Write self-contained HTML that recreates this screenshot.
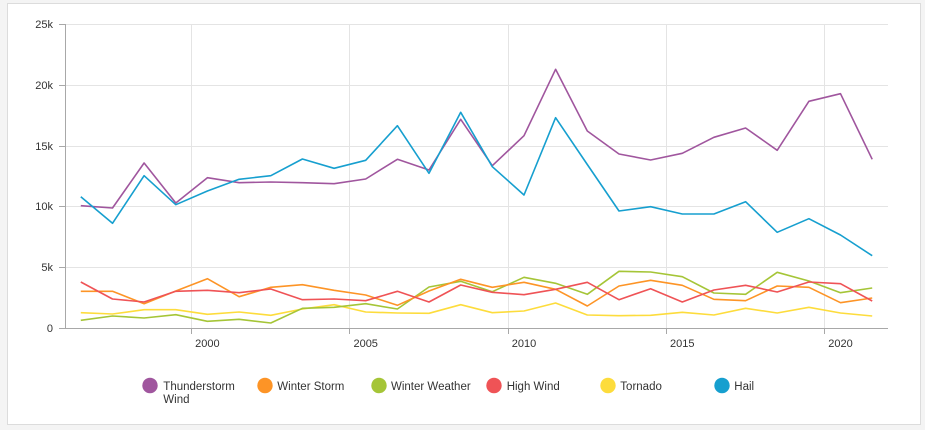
<!DOCTYPE html>
<html>
<head>
<meta charset="utf-8">
<style>
  html,body{margin:0;padding:0;background:#f4f4f4;}
  body{width:925px;height:430px;position:relative;overflow:hidden;font-family:"Liberation Sans",sans-serif;}
  .card{position:absolute;left:7px;top:3px;width:912px;height:420px;background:#fff;border:1px solid #dcdcdc;}
  svg{position:absolute;left:0;top:0;}
  text{font-family:"Liberation Sans",sans-serif;fill:#333;}
</style>
</head>
<body>
<div class="card"></div>
<svg width="925" height="430" viewBox="0 0 925 430" xmlns="http://www.w3.org/2000/svg">
  <!-- horizontal gridlines -->
  <g stroke="#e4e4e4" stroke-width="1" shape-rendering="crispEdges">
    <line x1="65" y1="24.5" x2="888" y2="24.5"/>
    <line x1="65" y1="85.5" x2="888" y2="85.5"/>
    <line x1="65" y1="146.5" x2="888" y2="146.5"/>
    <line x1="65" y1="206.5" x2="888" y2="206.5"/>
    <line x1="65" y1="267.5" x2="888" y2="267.5"/>
    <!-- vertical gridlines -->
    <line x1="191.5" y1="24" x2="191.5" y2="328"/>
    <line x1="349.5" y1="24" x2="349.5" y2="328"/>
    <line x1="508.5" y1="24" x2="508.5" y2="328"/>
    <line x1="666.5" y1="24" x2="666.5" y2="328"/>
    <line x1="824.5" y1="24" x2="824.5" y2="328"/>
  </g>
  <!-- axes -->
  <g stroke="#a8a8a8" stroke-width="1" shape-rendering="crispEdges">
    <line x1="65.5" y1="24" x2="65.5" y2="328"/>
    <line x1="65" y1="328.5" x2="888" y2="328.5"/>
    <line x1="59" y1="24.5" x2="65" y2="24.5"/>
    <line x1="59" y1="85.5" x2="65" y2="85.5"/>
    <line x1="59" y1="146.5" x2="65" y2="146.5"/>
    <line x1="59" y1="206.5" x2="65" y2="206.5"/>
    <line x1="59" y1="267.5" x2="65" y2="267.5"/>
    <line x1="59" y1="328.5" x2="65" y2="328.5"/>
    <line x1="191.5" y1="328" x2="191.5" y2="334"/>
    <line x1="349.5" y1="328" x2="349.5" y2="334"/>
    <line x1="508.5" y1="328" x2="508.5" y2="334"/>
    <line x1="666.5" y1="328" x2="666.5" y2="334"/>
    <line x1="824.5" y1="328" x2="824.5" y2="334"/>
  </g>
  <!-- y labels -->
  <g font-size="11" text-anchor="end">
    <text x="53" y="28">25k</text>
    <text x="53" y="89">20k</text>
    <text x="53" y="150">15k</text>
    <text x="53" y="210">10k</text>
    <text x="53" y="271">5k</text>
    <text x="53" y="332">0</text>
  </g>
  <!-- x labels -->
  <g font-size="11" text-anchor="middle">
    <text x="207.4" y="347">2000</text>
    <text x="365.7" y="347">2005</text>
    <text x="524" y="347">2010</text>
    <text x="682.3" y="347">2015</text>
    <text x="840.5" y="347">2020</text>
  </g>
  <!-- series -->
  <g fill="none" stroke-width="1.6" stroke-linejoin="round">
    <!-- Tornado -->
    <polyline stroke="#fddc3c" points="80.8,312.7 112.5,314 144.1,309.7 175.8,309.7 207.4,314.3 239.1,312 270.8,315.3 302.4,309 334.1,304.7 365.7,312 397.4,313 429,313.3 460.7,304.7 492.3,312.7 524,311 555.6,303 587.3,315 619,315.7 650.6,315.3 682.3,312.3 713.9,315 745.6,308.3 777.2,313 808.9,307.3 840.5,313 872.2,316"/>
    <!-- Winter Weather -->
    <polyline stroke="#a5c537" points="80.8,320.3 112.5,316 144.1,318 175.8,314.7 207.4,321.3 239.1,319.3 270.8,323 302.4,308.3 334.1,307.3 365.7,303.7 397.4,309 429,287 460.7,281.3 492.3,291.7 524,277.3 555.6,283.3 587.3,294.3 619,271.3 650.6,272 682.3,276.7 713.9,293 745.6,294.3 777.2,272.3 808.9,281 840.5,292.7 872.2,288"/>
    <!-- Winter Storm -->
    <polyline stroke="#fd9426" points="80.8,291.3 112.5,291.3 144.1,303.7 175.8,291 207.4,278.7 239.1,296.7 270.8,287.3 302.4,284.7 334.1,290.3 365.7,295 397.4,305.3 429,291 460.7,279.3 492.3,287.3 524,282.3 555.6,289.3 587.3,306 619,286 650.6,280.3 682.3,285.3 713.9,299.3 745.6,300.7 777.2,286 808.9,287.3 840.5,302.7 872.2,298"/>
    <!-- High Wind -->
    <polyline stroke="#ef5356" points="80.8,282 112.5,299 144.1,302 175.8,291.3 207.4,290.3 239.1,292.7 270.8,289 302.4,299.7 334.1,299 365.7,300.7 397.4,291.3 429,302 460.7,285 492.3,292.3 524,294.7 555.6,289.3 587.3,282.3 619,299.7 650.6,288.7 682.3,302 713.9,290 745.6,285.3 777.2,292 808.9,282 840.5,283.7 872.2,301"/>
    <!-- Thunderstorm Wind -->
    <polyline stroke="#a0569e" points="80.8,205.7 112.5,208 144.1,163 175.8,203 207.4,177.7 239.1,182.7 270.8,182 302.4,182.7 334.1,183.7 365.7,179 397.4,159.3 429,170 460.7,119.3 492.3,165.7 524,135.7 555.6,69.3 587.3,131 619,154 650.6,160 682.3,153.3 713.9,137.3 745.6,128 777.2,150.3 808.9,101.3 840.5,93.7 872.2,159.3"/>
    <!-- Hail -->
    <polyline stroke="#169fcf" points="80.8,196.7 112.5,223.3 144.1,175.7 175.8,204.7 207.4,191 239.1,179.3 270.8,175.7 302.4,159 334.1,168.3 365.7,160.3 397.4,125.7 429,173.3 460.7,112.3 492.3,166.7 524,195 555.6,117.7 587.3,164.5 619,211 650.6,206.7 682.3,214 713.9,214 745.6,201.7 777.2,232.3 808.9,218.7 840.5,235 872.2,255.7"/>
  </g>
  <!-- legend -->
  <g>
    <circle cx="150" cy="385.5" r="7.7" fill="#a0569e"/>
    <circle cx="265" cy="385.5" r="7.7" fill="#fd9426"/>
    <circle cx="379" cy="385.5" r="7.7" fill="#a5c537"/>
    <circle cx="494" cy="385.5" r="7.7" fill="#ef5356"/>
    <circle cx="608" cy="385.5" r="7.7" fill="#fddc3c"/>
    <circle cx="722" cy="385.5" r="7.7" fill="#169fcf"/>
  </g>
  <g font-size="11.5">
    <text x="163.3" y="390">Thunderstorm</text>
    <text x="163.3" y="403">Wind</text>
    <text x="277.3" y="390">Winter Storm</text>
    <text x="391" y="390">Winter Weather</text>
    <text x="506.7" y="390">High Wind</text>
    <text x="620.3" y="390">Tornado</text>
    <text x="734.3" y="390">Hail</text>
  </g>
</svg>
</body>
</html>
